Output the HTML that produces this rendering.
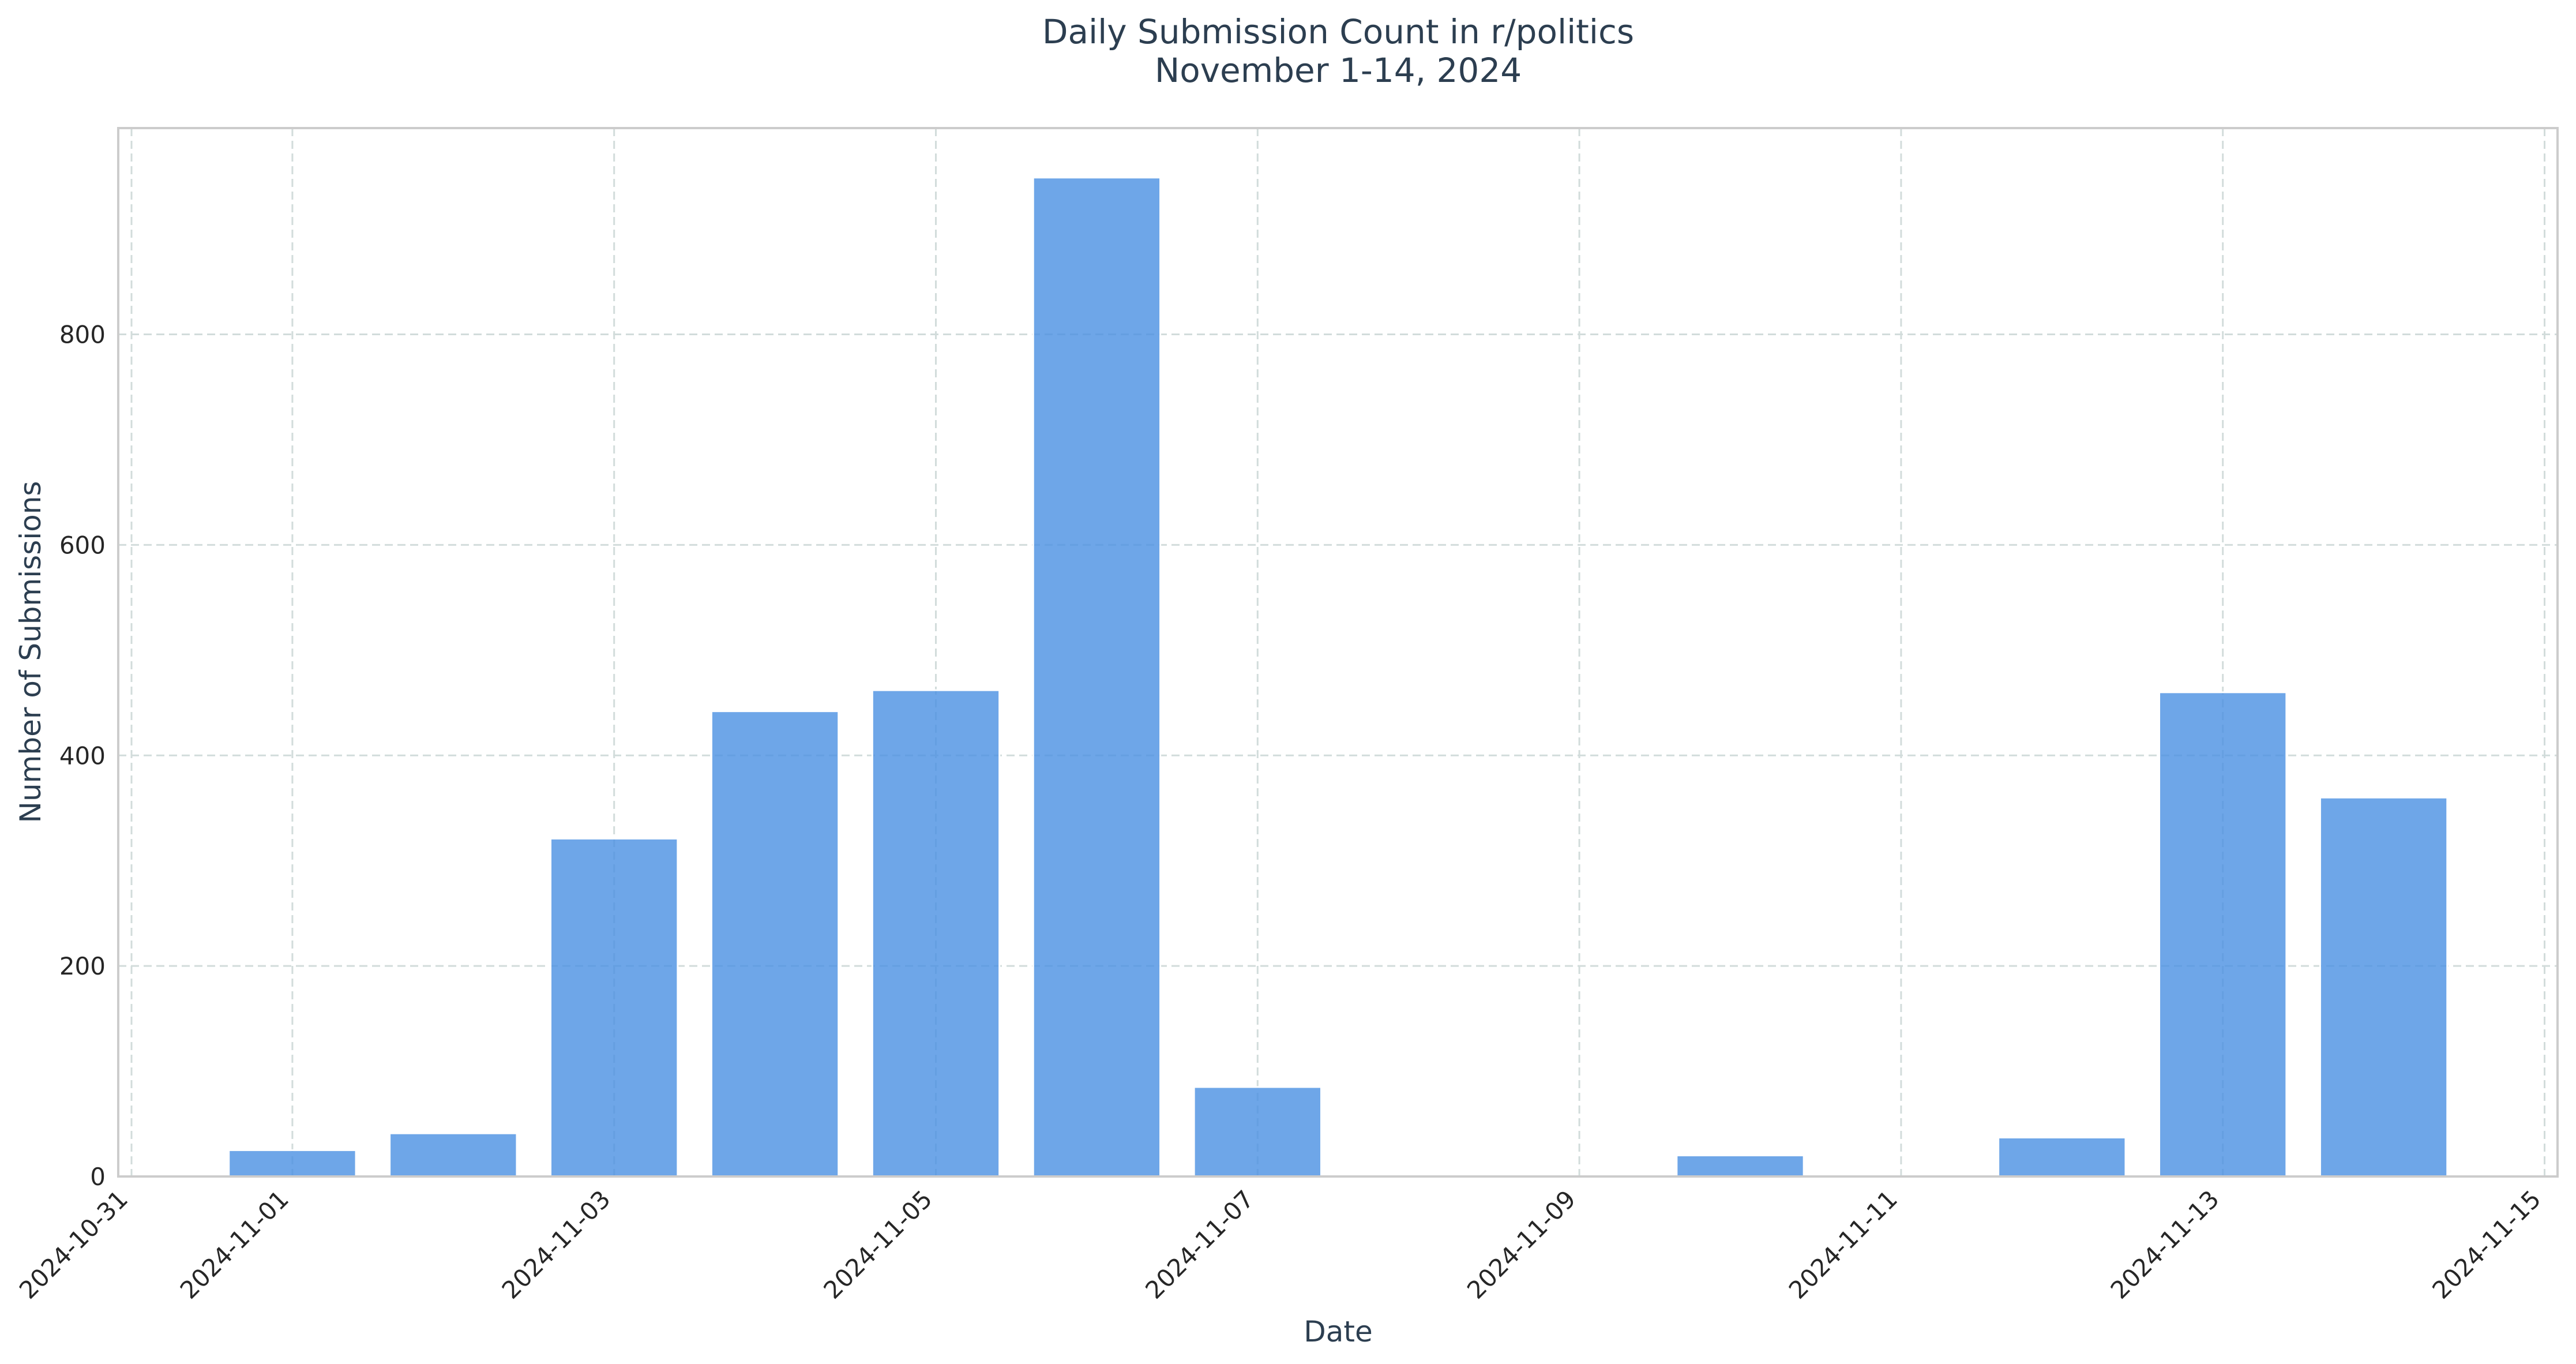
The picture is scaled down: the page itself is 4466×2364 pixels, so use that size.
<!DOCTYPE html>
<html><head><meta charset="utf-8">
<style>
html,body{margin:0;padding:0;background:#fff;}
svg{display:block;font-family:"DejaVu Sans","Liberation Sans",sans-serif;}
</style></head>
<body>
<svg id="chart" width="4466" height="2364" viewBox="0 0 4466 2364" xmlns="http://www.w3.org/2000/svg">
<rect x="0" y="0" width="4466" height="2364" fill="#fff"/>
<text x="2320" y="75" text-anchor="middle" font-size="58" fill="#2c3e50">Daily Submission Count in r/politics</text>
<text x="2320" y="142" text-anchor="middle" font-size="58" fill="#2c3e50">November 1-14, 2024</text>
<g id="grid"></g>
<g id="bars"></g>
<rect x="205" y="222" width="4229" height="1817" fill="none" stroke="#cccccc" stroke-width="4"/>
<g id="yticks"></g>
<g id="xticks"></g>
<text x="2320" y="2325" text-anchor="middle" font-size="50" fill="#2c3e50">Date</text>
<text x="0" y="0" transform="translate(70,1130) rotate(-90)" text-anchor="middle" font-size="50" fill="#2c3e50">Number of Submissions</text>
</svg>
<script>
const dayOffsets = [1,2,3,4,5,6,7,8,9,10,11,12,13,14];
const counts = [25,41,321,442,462,949,85,0,0,20,0,37,460,360];
const yTicks = [0,200,400,600,800];
const xTickDays = [0,1,3,5,7,9,11,13,15];
const xTickLabels = ["2024-10-31","2024-11-01","2024-11-03","2024-11-05","2024-11-07","2024-11-09","2024-11-11","2024-11-13","2024-11-15"];

const NS = "http://www.w3.org/2000/svg";
const plotLeft = 205, plotRight = 4434, plotTop = 222, plotBottom = 2039;
const yMax = 996;
function xScale(d){ return 228 + 278.9 * d; }
function yScale(v){ return plotBottom - (v / yMax) * (plotBottom - plotTop); }
function mk(tag, attrs){ const e = document.createElementNS(NS, tag); for (const k in attrs) e.setAttribute(k, attrs[k]); return e; }

const gridG = document.getElementById('grid');
const barsG = document.getElementById('bars');
const ytG = document.getElementById('yticks');
const xtG = document.getElementById('xticks');

yTicks.forEach(v => {
  const y = yScale(v);
  if (v > 0) {
    const l = mk('line', {x1:plotLeft, x2:plotRight, y1:y, y2:y, stroke:'#d2dcdb', 'stroke-width':3, 'stroke-dasharray':'14 8'});
    
    
    gridG.appendChild(l);
  }
  const t = mk('text', {x:plotLeft-22, y:y+15, 'text-anchor':'end', 'font-size':42, fill:'#262626'});
  t.textContent = v;
  
  
  ytG.appendChild(t);
});

xTickDays.forEach((d, i) => {
  const x = xScale(d);
  const l = mk('line', {x1:x, x2:x, y1:plotTop, y2:plotBottom, stroke:'#d2dcdb', 'stroke-width':3, 'stroke-dasharray':'14 8'});
  
  
  gridG.appendChild(l);
  const t = mk('text', {x:0, y:0, 'text-anchor':'end', 'font-size':42, fill:'#262626', transform:'translate(' + (x - 4) + ',' + (plotBottom + 42) + ') rotate(-45)'});
  t.textContent = xTickLabels[i];
  
  
  xtG.appendChild(t);
});

const bw = 0.79 * 278.9;
dayOffsets.forEach((d, i) => {
  const v = counts[i];
  if (v <= 0) return;
  const x = xScale(d) - bw / 2;
  const y = yScale(v);
  const r = mk('rect', {x:x, y:y, width:bw, height:plotBottom - y, fill:'#4a90e2', 'fill-opacity':0.8, stroke:'#ffffff', 'stroke-width':3});
  
  
  barsG.appendChild(r);
});
</script>
</body></html>
